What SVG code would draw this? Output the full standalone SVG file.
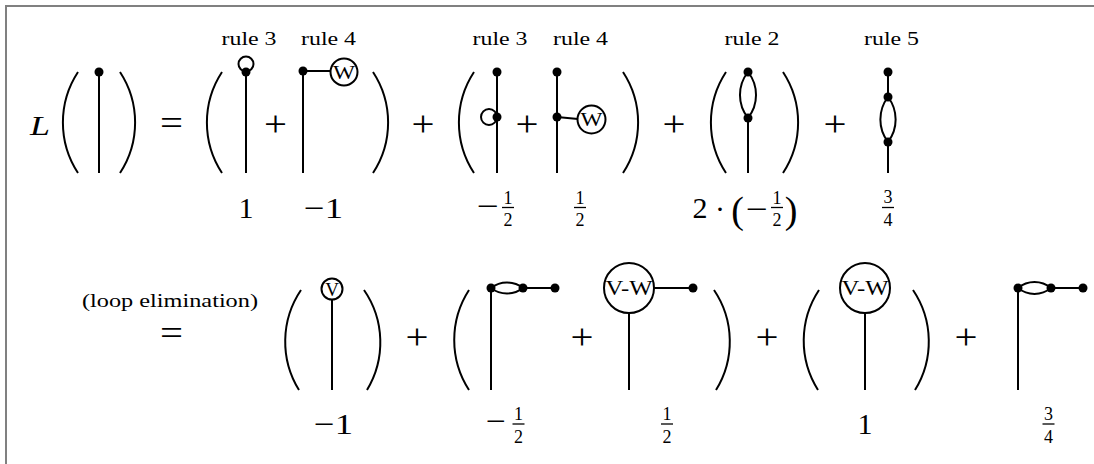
<svg xmlns="http://www.w3.org/2000/svg" width="1094" height="464" viewBox="0 0 1094 464">
<style>
.ln{stroke:#000;stroke-width:2;fill:none}
.dot{fill:#000}
.t{font-family:"Liberation Serif","Times New Roman",serif;fill:#000}
.lab{font-size:18px}
.big{font-size:30px}
.fr{font-size:18px}
.op{font-size:36px}
.bar{stroke:#000;stroke-width:1.3}
.frame{stroke:#808080;stroke-width:2;fill:none}
</style>
<rect x="0" y="0" width="1094" height="464" fill="#fff"/>
<g id="frame"><path class="frame" d="M6 464 V6 H1094"/></g>

<g id="row1-lhs">
  <text class="t" x="30" y="135" font-size="28" font-style="italic" textLength="20" lengthAdjust="spacingAndGlyphs">L</text>
  <path class="ln" d="M78 72 A92 92 0 0 0 78 173"/>
  <line class="ln" x1="99" y1="72" x2="99" y2="173"/>
  <circle class="dot" cx="99" cy="72" r="4.5"/>
  <path class="ln" d="M120 72 A92 92 0 0 1 120 173"/>
  <text class="t op" x="160" y="134.5" textLength="23" lengthAdjust="spacingAndGlyphs">=</text>
</g>

<g id="term-rule3a">
  <text class="t lab" x="221.5" y="45" textLength="55" lengthAdjust="spacingAndGlyphs">rule 3</text>
  <path class="ln" d="M222 72 A92 92 0 0 0 222 173"/>
  <line class="ln" x1="246" y1="72" x2="246" y2="173"/>
  <circle class="ln" cx="246" cy="64" r="7.5"/>
  <circle class="dot" cx="246" cy="72" r="4.5"/>
  <text class="t big" x="246" y="218" text-anchor="middle">1</text>
  <text class="t op" x="264" y="136" textLength="23" lengthAdjust="spacingAndGlyphs">+</text>
</g>

<g id="term-rule4a">
  <text class="t lab" x="301" y="45" textLength="55" lengthAdjust="spacingAndGlyphs">rule 4</text>
  <line class="ln" x1="303" y1="72" x2="303" y2="173"/>
  <line class="ln" x1="303" y1="71" x2="331" y2="71"/>
  <circle class="ln" cx="344" cy="72" r="13.5"/>
  <text class="t" x="344" y="78.5" font-size="19" text-anchor="middle" textLength="22" lengthAdjust="spacingAndGlyphs">W</text>
  <circle class="dot" cx="303" cy="71" r="4.5"/>
  <path class="ln" d="M373 72 A92 92 0 0 1 373 173"/>
  <text class="t big" x="304" y="218" textLength="39" lengthAdjust="spacingAndGlyphs">−1</text>
  <text class="t op" x="411.5" y="136" textLength="23" lengthAdjust="spacingAndGlyphs">+</text>
</g>

<g id="term-rule3b">
  <text class="t lab" x="472.5" y="45" textLength="55" lengthAdjust="spacingAndGlyphs">rule 3</text>
  <path class="ln" d="M474 72 A92 92 0 0 0 474 173"/>
  <line class="ln" x1="497" y1="72" x2="497" y2="173"/>
  <circle class="ln" cx="489" cy="117" r="8"/>
  <circle class="dot" cx="497" cy="72" r="4.5"/>
  <circle class="dot" cx="497" cy="117" r="4.5"/>
  <text class="t big" x="477" y="216" textLength="22" lengthAdjust="spacingAndGlyphs">−</text>
  <text class="t fr" x="508" y="204" text-anchor="middle">1</text>
  <line class="bar" x1="502" y1="207.5" x2="514" y2="207.5"/>
  <text class="t fr" x="508" y="226" text-anchor="middle">2</text>
  <text class="t op" x="515.5" y="136" textLength="23" lengthAdjust="spacingAndGlyphs">+</text>
</g>

<g id="term-rule4b">
  <text class="t lab" x="553" y="45" textLength="55" lengthAdjust="spacingAndGlyphs">rule 4</text>
  <line class="ln" x1="557" y1="72" x2="557" y2="173"/>
  <line class="ln" x1="557" y1="117" x2="578" y2="119"/>
  <circle class="ln" cx="591.5" cy="119.5" r="14"/>
  <text class="t" x="591.5" y="126" font-size="19" text-anchor="middle" textLength="22" lengthAdjust="spacingAndGlyphs">W</text>
  <circle class="dot" cx="557" cy="72" r="4.5"/>
  <circle class="dot" cx="557" cy="117" r="4.5"/>
  <path class="ln" d="M623 72 A92 92 0 0 1 623 173"/>
  <text class="t fr" x="580" y="204" text-anchor="middle">1</text>
  <line class="bar" x1="574" y1="207.5" x2="586" y2="207.5"/>
  <text class="t fr" x="580" y="226" text-anchor="middle">2</text>
  <text class="t op" x="662.5" y="136" textLength="23" lengthAdjust="spacingAndGlyphs">+</text>
</g>

<g id="term-rule2">
  <text class="t lab" x="724.5" y="45" textLength="55" lengthAdjust="spacingAndGlyphs">rule 2</text>
  <path class="ln" d="M726 72 A92 92 0 0 0 726 173"/>
  <path class="ln" d="M748 72 A37 37 0 0 0 748 118 A37 37 0 0 0 748 72"/>
  <line class="ln" x1="748" y1="118" x2="748" y2="173"/>
  <circle class="dot" cx="748" cy="72" r="4.5"/>
  <circle class="dot" cx="748" cy="118" r="4.5"/>
  <path class="ln" d="M783 72 A92 92 0 0 1 783 173"/>
  <text class="t big" x="700" y="218" text-anchor="middle">2</text>
  <text class="t big" x="720" y="219" text-anchor="middle">·</text>
  <text class="t" x="737.5" y="223" font-size="38" text-anchor="middle">(</text>
  <text class="t big" x="746" y="219" textLength="22" lengthAdjust="spacingAndGlyphs">−</text>
  <text class="t fr" x="777" y="204" text-anchor="middle">1</text>
  <line class="bar" x1="771" y1="207.5" x2="783" y2="207.5"/>
  <text class="t fr" x="777" y="226" text-anchor="middle">2</text>
  <text class="t" x="791" y="223" font-size="38" text-anchor="middle">)</text>
  <text class="t op" x="823.5" y="136" textLength="23" lengthAdjust="spacingAndGlyphs">+</text>
</g>

<g id="term-rule5">
  <text class="t lab" x="864" y="45" textLength="55" lengthAdjust="spacingAndGlyphs">rule 5</text>
  <line class="ln" x1="888" y1="72" x2="888" y2="97"/>
  <path class="ln" d="M888 97 A37 37 0 0 0 888 142 A37 37 0 0 0 888 97"/>
  <line class="ln" x1="888" y1="142" x2="888" y2="173"/>
  <circle class="dot" cx="888" cy="72" r="4.5"/>
  <circle class="dot" cx="888" cy="97" r="4.5"/>
  <circle class="dot" cx="888" cy="142" r="4.5"/>
  <text class="t fr" x="888" y="203" text-anchor="middle">3</text>
  <line class="bar" x1="882" y1="207.5" x2="894" y2="207.5"/>
  <text class="t fr" x="888" y="226" text-anchor="middle">4</text>
</g>

<g id="row2-eq">
  <text class="t" x="82" y="307" font-size="19" textLength="176" lengthAdjust="spacingAndGlyphs">(loop elimination)</text>
  <text class="t op" x="160" y="344.5" textLength="23" lengthAdjust="spacingAndGlyphs">=</text>
</g>

<g id="term-V">
  <path class="ln" d="M301 290 A92 92 0 0 0 299 390"/>
  <circle class="ln" cx="332" cy="289" r="10.5"/>
  <text class="t" x="332" y="295.5" font-size="19" text-anchor="middle">V</text>
  <line class="ln" x1="332" y1="299.5" x2="332" y2="390"/>
  <path class="ln" d="M364 290 A92 92 0 0 1 367 390"/>
  <text class="t big" x="314" y="434" textLength="39" lengthAdjust="spacingAndGlyphs">−1</text>
  <text class="t op" x="405.5" y="349" textLength="23" lengthAdjust="spacingAndGlyphs">+</text>
</g>

<g id="term-lens-a">
  <path class="ln" d="M469 290 A92 92 0 0 0 469 390"/>
  <line class="ln" x1="491" y1="288" x2="491" y2="390"/>
  <path class="ln" d="M491 288 A26 26 0 0 0 523 288 A26 26 0 0 0 491 288"/>
  <line class="ln" x1="523" y1="288" x2="555" y2="288"/>
  <circle class="dot" cx="491" cy="288" r="4.5"/>
  <circle class="dot" cx="523" cy="288" r="4.5"/>
  <circle class="dot" cx="555" cy="288" r="4.5"/>
  <text class="t big" x="486" y="431" textLength="20" lengthAdjust="spacingAndGlyphs">−</text>
  <text class="t fr" x="518.5" y="420" text-anchor="middle">1</text>
  <line class="bar" x1="512.5" y1="424" x2="524.5" y2="424"/>
  <text class="t fr" x="518.5" y="443" text-anchor="middle">2</text>
  <text class="t op" x="570.5" y="349" textLength="23" lengthAdjust="spacingAndGlyphs">+</text>
</g>

<g id="term-VW-a">
  <circle class="ln" cx="629" cy="288" r="25"/>
  <text class="t" x="629" y="295" font-size="21" text-anchor="middle" textLength="47" lengthAdjust="spacingAndGlyphs">V-W</text>
  <line class="ln" x1="654" y1="288" x2="693" y2="288"/>
  <circle class="dot" cx="693" cy="288" r="4.5"/>
  <line class="ln" x1="629" y1="313" x2="629" y2="390"/>
  <path class="ln" d="M714 290 A92 92 0 0 1 716 390"/>
  <text class="t fr" x="667" y="420" text-anchor="middle">1</text>
  <line class="bar" x1="661" y1="424" x2="673" y2="424"/>
  <text class="t fr" x="667" y="443" text-anchor="middle">2</text>
  <text class="t op" x="755.5" y="349" textLength="23" lengthAdjust="spacingAndGlyphs">+</text>
</g>

<g id="term-VW-b">
  <path class="ln" d="M819 290 A92 92 0 0 0 818 390"/>
  <circle class="ln" cx="865" cy="288" r="25"/>
  <text class="t" x="865" y="295" font-size="21" text-anchor="middle" textLength="47" lengthAdjust="spacingAndGlyphs">V-W</text>
  <line class="ln" x1="865" y1="313" x2="865" y2="390"/>
  <path class="ln" d="M913 290 A92 92 0 0 1 915 390"/>
  <text class="t big" x="865" y="434" text-anchor="middle">1</text>
  <text class="t op" x="954.5" y="349" textLength="23" lengthAdjust="spacingAndGlyphs">+</text>
</g>

<g id="term-lens-b">
  <line class="ln" x1="1018" y1="288" x2="1018" y2="390"/>
  <path class="ln" d="M1018 288 A26 26 0 0 0 1051 288 A26 26 0 0 0 1018 288"/>
  <line class="ln" x1="1051" y1="288" x2="1083" y2="288"/>
  <circle class="dot" cx="1018" cy="288" r="4.5"/>
  <circle class="dot" cx="1051" cy="288" r="4.5"/>
  <circle class="dot" cx="1083" cy="288" r="4.5"/>
  <text class="t fr" x="1048.5" y="420" text-anchor="middle">3</text>
  <line class="bar" x1="1042.5" y1="424" x2="1054.5" y2="424"/>
  <text class="t fr" x="1048.5" y="443" text-anchor="middle">4</text>
</g>
</svg>
